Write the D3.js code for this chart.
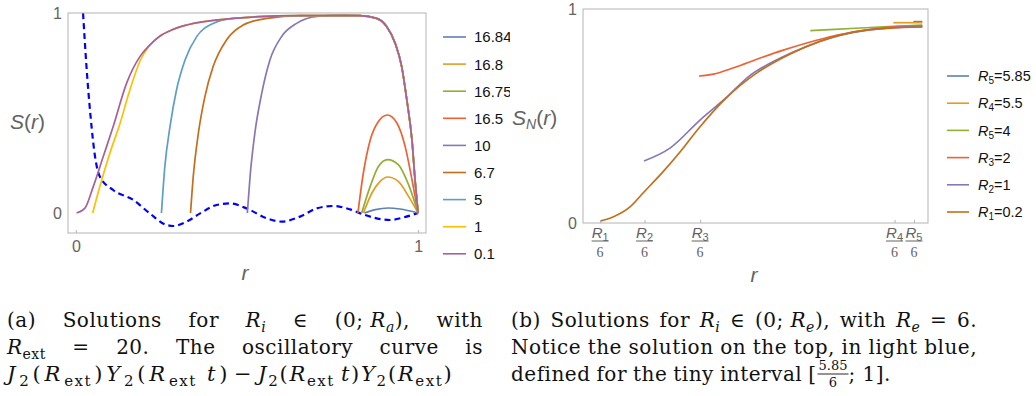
<!DOCTYPE html>
<html>
<head>
<meta charset="utf-8">
<script src="https://cdn.jsdelivr.net/npm/d3@7"></script>
<style>
  body { margin: 0; background: #fff; }
</style>
</head>
<body>
<script>
// ---------- left panel (a): S(r) for several R_i ----------
const leftLabels = ["16.84", "16.8", "16.75", "16.5", "10", "6.7", "5", "1", "0.1"];
const leftColors = ["#5E81B5", "#E19C24", "#8FB032", "#EB6235", "#8778B3", "#C56E1A", "#5D9EC7", "#FFBF00", "#A5609D"];

// common falling tail shared by the big curves
const tailR = [0.83, 0.879, 0.908, 0.933, 0.952, 0.967, 0.982, 0.991, 1.0];
const tailS = [0.987, 0.973, 0.932, 0.848, 0.732, 0.565, 0.365, 0.165, 0];

const r1684 = [0.843, 0.875, 0.913, 0.947, 1.0];
const s1684 = [0, 0.017, 0.025, 0.02, 0];
const r168 = [0.84, 0.865, 0.889, 0.911, 0.942, 0.972, 1.0];
const s168 = [0, 0.1, 0.158, 0.18, 0.158, 0.083, 0];
const r1675 = [0.835, 0.86, 0.884, 0.911, 0.942, 0.972, 1.0];
const s1675 = [0, 0.133, 0.233, 0.267, 0.242, 0.142, 0];
const r165 = [0.824, 0.84, 0.86, 0.884, 0.91, 0.938, 0.962, 0.982, 1.0];
const s165 = [0, 0.2, 0.365, 0.458, 0.49, 0.45, 0.333, 0.167, 0];
const r10 = [0.501, 0.509, 0.523, 0.543, 0.567, 0.601, 0.645, 0.704, 0.782];
const s10 = [0, 0.183, 0.4, 0.598, 0.765, 0.882, 0.948, 0.983, 0.99];
const r67 = [0.335, 0.343, 0.358, 0.377, 0.401, 0.44, 0.489, 0.558, 0.655];
const s67 = [0, 0.183, 0.4, 0.582, 0.732, 0.865, 0.94, 0.973, 0.987];
const r5 = [0.25, 0.26, 0.275, 0.294, 0.319, 0.353, 0.401, 0.46, 0.655];
const s5 = [0, 0.233, 0.432, 0.615, 0.765, 0.882, 0.948, 0.973, 0.987];
const r1 = [0.049, 0.07, 0.099, 0.129, 0.155, 0.19, 0.215, 0.246, 0.28, 0.324, 0.46, 0.655];
const s1 = [0, 0.133, 0.298, 0.448, 0.6, 0.77, 0.838, 0.885, 0.915, 0.94, 0.973, 0.987];
const r01 = [0.002, 0.026, 0.051, 0.08, 0.109, 0.148, 0.187, 0.215, 0.246, 0.28, 0.324, 0.46, 0.655];
const s01 = [0, 0.023, 0.133, 0.282, 0.432, 0.648, 0.782, 0.838, 0.885, 0.915, 0.94, 0.973, 0.987];

// oscillatory curve J2(Rext)Y2(Rext t) - J2(Rext t)Y2(Rext)
const oscR = [0.021, 0.031, 0.043, 0.056, 0.07, 0.109, 0.168, 0.216, 0.265, 0.285, 0.324, 0.363, 0.411, 0.45, 0.499, 0.558, 0.601, 0.655, 0.704, 0.752, 0.801, 0.84, 0.879, 0.918, 0.957, 1.0];
const oscS = [1.0, 0.732, 0.482, 0.282, 0.182, 0.115, 0.065, -0.002, -0.06, -0.065, -0.043, -0.002, 0.04, 0.048, 0.023, -0.027, -0.043, -0.018, 0.023, 0.035, 0.018, -0.007, -0.027, -0.035, -0.022, 0];

const leftTicks = [0, 1];

// ---------- right panel (b): S_N(r) ----------
const rightLabels = [["5", "5.85"], ["4", "5.5"], ["5", "4"], ["3", "2"], ["2", "1"], ["1", "0.2"]];
const rightColors = ["#5E81B5", "#E19C24", "#8FB032", "#EB6235", "#8778B3", "#C56E1A"];
const rA = [0.973, 1.0], sA = [0.941, 0.941];
const rB = [0.913, 1.0], sB = [0.936, 0.936];
const rC = [0.664, 0.8, 0.9, 1.0], sC = [0.899, 0.91, 0.918, 0.925];
const rD = [0.33, 0.373, 0.432, 0.514, 0.583, 0.664, 0.733, 0.814, 0.904, 1.0];
const sD = [0.687, 0.696, 0.724, 0.771, 0.808, 0.846, 0.874, 0.897, 0.916, 0.921];
const rE = [0.165, 0.243, 0.333, 0.414, 0.477, 0.574, 0.664, 0.793, 0.904, 1.0];
const sE = [0.29, 0.35, 0.481, 0.589, 0.682, 0.771, 0.832, 0.89, 0.912, 0.918];
const rF = [0.033, 0.072, 0.123, 0.165, 0.219, 0.273, 0.33, 0.408, 0.508, 0.604, 0.694, 0.793, 0.904, 1.0];
const sF = [0.009, 0.028, 0.075, 0.145, 0.234, 0.332, 0.444, 0.579, 0.706, 0.79, 0.85, 0.893, 0.911, 0.916];

const radii = [0.2, 1, 2, 5.5, 5.85];   // R_1..R_5, ticks at R_i / 6
const radiusIdx = ["1", "2", "3", "4", "5"];
const Re = 6;

// -------------------------------------------------------
const W = 1036, H = 396;
const grey = "#636363", frameCol = "#b4b4b4";
const sans = "'Liberation Sans', Arial, sans-serif";
const serif = "'DejaVu Serif', serif";
const tickSerif = "'Liberation Serif', serif";

const svg = d3.select("body").append("svg")
  .attr("width", W).attr("height", H)
  .style("background", "#fff");

const zip = (a, b) => a.map((v, i) => [v, b[i]]);

// ===== left panel =====
svg.append("clipPath").attr("id", "leftClip")
  .append("rect").attr("x", 0).attr("y", 0).attr("width", 510).attr("height", 300);
const gl = svg.append("g").attr("clip-path", "url(#leftClip)");

const xL = d3.scaleLinear().domain([-0.023, 1.023]).range([68, 426]);
const yL = d3.scaleLinear().domain([-0.1, 1]).range([233, 13]);

gl.append("clipPath").attr("id", "leftFrame")
  .append("rect").attr("x", 68).attr("y", 13).attr("width", 358).attr("height", 220);

const lineL = d3.line().x(d => xL(d[0])).y(d => yL(d[1])).curve(d3.curveMonotoneX);

const leftSeries = [
  zip(r1684, s1684), zip(r168, s168), zip(r1675, s1675), zip(r165, s165),
  zip(r10.concat(tailR), s10.concat(tailS)),
  zip(r67.concat(tailR), s67.concat(tailS)),
  zip(r5.concat(tailR), s5.concat(tailS)),
  zip(r1.concat(tailR), s1.concat(tailS)),
  zip(r01.concat(tailR), s01.concat(tailS))
];

const plotL = gl.append("g").attr("clip-path", "url(#leftFrame)");
plotL.append("path").datum(zip(oscR, oscS))
  .attr("d", lineL).attr("fill", "none")
  .attr("stroke", "#0000ff").attr("stroke-width", 2.2)
  .attr("stroke-dasharray", "6,4");
plotL.selectAll(".curveL").data(leftSeries).enter().append("path")
  .attr("class", "curveL")
  .attr("d", lineL).attr("fill", "none")
  .attr("stroke", (d, i) => leftColors[i]).attr("stroke-width", 1.7);

// frame + axes
gl.append("rect").attr("x", 68).attr("y", 13).attr("width", 358).attr("height", 220)
  .attr("fill", "none").attr("stroke", frameCol);

const axL = gl.append("g").attr("transform", "translate(0,233)")
  .call(d3.axisBottom(xL).tickValues(leftTicks).tickSize(-3).tickPadding(8).tickFormat(d3.format("d")));
const ayL = gl.append("g").attr("transform", "translate(68,0)")
  .call(d3.axisLeft(yL).tickValues(leftTicks).tickSize(0).tickPadding(6).tickFormat(d3.format("d")));
[axL, ayL].forEach(a => {
  a.select(".domain").remove();
  a.selectAll("line").attr("stroke", frameCol);
  a.selectAll("text").attr("fill", grey).attr("font-size", 16).attr("font-family", sans);
});

// axis titles
const sLab = gl.append("text").attr("x", 10).attr("y", 129)
  .attr("font-family", sans).attr("font-size", 21).attr("fill", grey);
sLab.append("tspan").attr("font-style", "italic").text("S");
sLab.append("tspan").text("(");
sLab.append("tspan").attr("font-style", "italic").text("r");
sLab.append("tspan").text(")");
gl.append("text").attr("x", 245).attr("y", 280).attr("text-anchor", "middle")
  .attr("font-family", sans).attr("font-size", 21).attr("font-style", "italic")
  .attr("fill", grey).text("r");

// legend
const legL = gl.selectAll(".legL").data(leftLabels).enter().append("g")
  .attr("class", "legL")
  .attr("transform", (d, i) => `translate(443,${37 + i * 27.1})`);
legL.append("line").attr("x1", 0).attr("x2", 23)
  .attr("stroke", (d, i) => leftColors[i]).attr("stroke-width", 1.6);
legL.append("text").attr("x", 31).attr("dy", "0.36em")
  .attr("font-family", sans).attr("font-size", 15).attr("fill", "#111").text(d => d);

// ===== right panel =====
const gr = svg.append("g");
const xR = d3.scaleLinear().domain([-0.018, 1.017]).range([583, 928]);
const yR = d3.scaleLinear().domain([0, 1]).range([223, 9]);
const lineR = d3.line().x(d => xR(d[0])).y(d => yR(d[1])).curve(d3.curveMonotoneX);

const rightSeries = [zip(rA, sA), zip(rB, sB), zip(rC, sC), zip(rD, sD), zip(rE, sE), zip(rF, sF)];
gr.selectAll(".curveR").data(rightSeries).enter().append("path")
  .attr("class", "curveR")
  .attr("d", lineR).attr("fill", "none")
  .attr("stroke", (d, i) => rightColors[i]).attr("stroke-width", 1.7);

gr.append("rect").attr("x", 583).attr("y", 9).attr("width", 345).attr("height", 214)
  .attr("fill", "none").attr("stroke", frameCol);

const tickPos = radii.map(v => v / Re);
const axR = gr.append("g").attr("transform", "translate(0,223)")
  .call(d3.axisBottom(xR).tickValues(tickPos).tickSize(-3).tickFormat(""));
const ayR = gr.append("g").attr("transform", "translate(583,0)")
  .call(d3.axisLeft(yR).tickValues([0, 1]).tickSize(0).tickPadding(6).tickFormat(d3.format("d")));
[axR, ayR].forEach(a => {
  a.select(".domain").remove();
  a.selectAll("line").attr("stroke", frameCol);
  a.selectAll("text").attr("fill", grey).attr("font-size", 16).attr("font-family", sans);
});

// fraction tick labels R_i / 6
const frac = gr.selectAll(".fracTick").data(tickPos).enter().append("g")
  .attr("class", "fracTick")
  .attr("transform", d => `translate(${xR(d)},0)`);
const num = frac.append("text").attr("y", 238).attr("text-anchor", "middle")
  .attr("font-family", sans).attr("font-size", 15).attr("fill", grey);
num.append("tspan").attr("font-style", "italic").text("R");
num.append("tspan").attr("font-size", 11).attr("dy", 3).text((d, i) => radiusIdx[i]);
frac.append("line").attr("x1", -8.5).attr("x2", 8.5).attr("y1", 241).attr("y2", 241)
  .attr("stroke", grey).attr("stroke-width", 1);
frac.append("text").attr("y", 257).attr("text-anchor", "middle")
  .attr("font-family", tickSerif).attr("font-size", 14).attr("fill", grey).text(Re);

const snLab = gr.append("text").attr("x", 512).attr("y", 125)
  .attr("font-family", sans).attr("font-size", 21).attr("fill", grey);
snLab.append("tspan").attr("font-style", "italic").text("S");
snLab.append("tspan").attr("font-style", "italic").attr("font-size", 14).attr("dy", 4).text("N");
snLab.append("tspan").attr("dy", -4).text("(");
snLab.append("tspan").attr("font-style", "italic").text("r");
snLab.append("tspan").text(")");
gr.append("text").attr("x", 754).attr("y", 282).attr("text-anchor", "middle")
  .attr("font-family", sans).attr("font-size", 21).attr("font-style", "italic")
  .attr("fill", grey).text("r");

const legR = gr.selectAll(".legR").data(rightLabels).enter().append("g")
  .attr("class", "legR")
  .attr("transform", (d, i) => `translate(947,${76 + i * 27.2})`);
legR.append("line").attr("x1", 0).attr("x2", 22)
  .attr("stroke", (d, i) => rightColors[i]).attr("stroke-width", 1.6);
const lt = legR.append("text").attr("x", 31).attr("dy", "0.36em")
  .attr("font-family", sans).attr("font-size", 14.5).attr("fill", "#111");
lt.append("tspan").attr("font-style", "italic").text("R");
lt.append("tspan").attr("font-size", 10).attr("dy", 3).text(d => d[0]);
lt.append("tspan").attr("dy", -3).text(d => "=" + d[1]);

// ===== captions =====
const FS = 20;
const P = (t, o = {}) => Object.assign({ t }, o);
const I = t => P(t, { it: 1 });
const SB = (t, it) => P(t, { sub: 1, it });

function drawLine(g, tokens, x0, y, width) {
  const items = tokens.map(tok => {
    if (tok.frac) {
      const fg = g.append("g");
      const n = fg.append("text").attr("y", y - 11).attr("font-family", serif)
        .attr("font-size", 13).attr("fill", "#111").text(tok.frac[0]);
      const w = n.node().getComputedTextLength();
      fg.append("line").attr("x1", 0).attr("x2", w + 2).attr("y1", y - 7).attr("y2", y - 7)
        .attr("stroke", "#111").attr("stroke-width", 0.9);
      fg.append("text").attr("x", (w + 2) / 2).attr("y", y + 6).attr("text-anchor", "middle")
        .attr("font-family", serif).attr("font-size", 13).attr("fill", "#111").text(tok.frac[1]);
      n.attr("x", 1);
      return { el: fg, w: w + 2, g: true, gap: tok.gap };
    }
    const t = g.append("text").attr("y", y).attr("font-family", serif)
      .attr("font-size", tok.fs || FS).attr("letter-spacing", tok.ls || 0.5).attr("fill", "#111");
    let shift = 0;
    const spans = tok.map(p => {
      const s = p.sub ? 5 : 0;
      const sp = t.append("tspan").text(p.t)
        .attr("font-style", p.it ? "italic" : null)
        .attr("font-size", p.sub ? (tok.sfs || 14) : null)
        .attr("dy", s - shift);
      shift = s;
      return sp;
    });
    let w = t.node().getComputedTextLength();
    if (tok.tl && tok.tl > w) {
      // spread the leftover width between the parts, keeping each part's letters together
      const extra = (tok.tl - w) / (spans.length - 1);
      spans.forEach((sp, i) => { if (i > 0) sp.attr("dx", extra); });
      w = tok.tl;
    }
    return { el: t, w, gap: tok.gap };
  });
  const total = d3.sum(items, d => d.w);
  const gap = width ? (width - total) / (items.length - 1) : 6;
  let x = x0;
  items.forEach(it => {
    if (it.g) it.el.attr("transform", `translate(${x},0)`);
    else it.el.attr("x", x);
    x += it.w + (it.gap !== undefined ? it.gap : gap);
  });
}

const words = s => s.split(" ").map(w => [P(w)]);
const cap = svg.append("g");

// (a)
drawLine(cap, [
  [P("(a)")], [P("Solutions")], [P("for")], [I("R"), SB("i", 1)], [P("∈")],
  [P("(0; "), I("R"), SB("a", 1), P("),")], [P("with")]
], 7, 327, 476);
drawLine(cap, [
  [I("R"), SB("ext")], [P("=")], [P("20.")], [P("The")], [P("oscillatory")], [P("curve")], [P("is")]
], 7, 354, 476);
const mathStyle = { fs: 21, sfs: 15, ls: 1.5 };
const a3 = [
  Object.assign([I("J"), SB("2"), P("("), I("R"), SB("ext"), P(")"), I("Y"), SB("2"), P("("), I("R"), SB("ext"), P("\u2009"), I("t"), P(")")], mathStyle, { tl: 222, gap: 5 }),
  Object.assign([P("−")], mathStyle, { gap: 5 }),
  Object.assign([I("J"), SB("2"), P("("), I("R"), SB("ext"), P("\u2009"), I("t"), P(")"), I("Y"), SB("2"), P("("), I("R"), SB("ext"), P(")")], mathStyle, { tl: 195 })
];
drawLine(cap, a3, 7, 381, null);

// (b)
drawLine(cap, [
  [P("(b)")], [P("Solutions")], [P("for")], [I("R"), SB("i", 1)], [P("∈")],
  [P("(0; "), I("R"), SB("e", 1), P("),")], [P("with")], [I("R"), SB("e", 1)], [P("=")], [P("6.")]
], 511, 327, 466);
drawLine(cap, words("Notice the solution on the top, in light blue,"), 511, 354, 466);
const b3 = words("defined for the tiny interval").concat([
  Object.assign([P("[")], { gap: 1 }),
  Object.assign({ frac: ["5.85", "6"] }, { gap: 0 }),
  [P("; 1].")]
]);
drawLine(cap, b3, 511, 381, null);
</script>
</body>
</html>
